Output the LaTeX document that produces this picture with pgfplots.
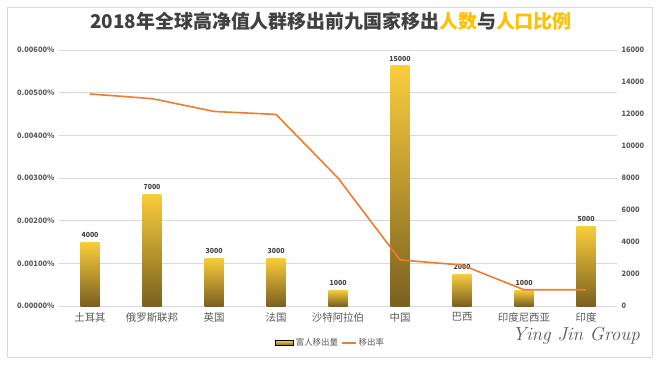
\documentclass[border=0pt]{standalone}
\usepackage{pgfplots}
\pgfplotsset{compat=1.18}
\usepackage{fontspec}
\setmainfont{Noto Sans CJK SC}
\newfontfamily\wmfont{Latin Modern Roman}
\definecolor{gold}{HTML}{FFC000}
\definecolor{barTop}{HTML}{FACD3C}
\definecolor{barBot}{HTML}{7A6020}
\definecolor{lineOr}{HTML}{ED7D31}
\definecolor{txt}{HTML}{595959}
\definecolor{ttl}{HTML}{404040}
\definecolor{gridc}{HTML}{D9D9D9}
\pgfplotsset{goldbar/.style={ybar, bar width=19bp, draw=none, top color=barTop, bottom color=barBot,
  nodes near coords,
  every node near coord/.append style={font=\fontsize{7}{8}\selectfont\bfseries, text=ttl, /pgf/number format/1000 sep={}, /pgf/number format/assume math mode=true, yshift=1bp}}}
\begin{document}
\begin{tikzpicture}[x=1bp,y=1bp]
\useasboundingbox (0,0) rectangle (659,365);
\draw[color=gridc, line width=0.8bp] (7,8) rectangle (652,358);
\node[font=\fontsize{19}{22}\selectfont\bfseries, text=ttl, anchor=center] at (331,344)
  {2018年全球高净值人群移出前九国家移出\textcolor{gold}{人数}与\textcolor{gold}{人口比例}};
% axis 1: left percent axis with grid and category labels
\begin{axis}[at={(59bp,59bp)}, anchor=south west, scale only axis,
  width=558bp, height=256bp,
  xmin=0.5, xmax=9.5, ymin=0, ymax=6,
  ytick={0,1,2,3,4,5,6},
  yticklabels={0.00000\%,0.00100\%,0.00200\%,0.00300\%,0.00400\%,0.00500\%,0.00600\%},
  xtick={1,2,3,4,5,6,7,8,9},
  xticklabels={土耳其,俄罗斯联邦,英国,法国,沙特阿拉伯,中国,巴西,印度尼西亚,印度},
  axis line style={draw=none}, major tick length=0pt,
  ymajorgrids, grid style={color=gridc, line width=0.8bp},
  yticklabel style={font=\fontsize{7.5}{9}\selectfont\bfseries, text=txt, xshift=-1bp},
  xticklabel style={font=\fontsize{10.5}{12}\selectfont, text=txt, yshift=-3bp},
]
\addplot[draw=none] coordinates {(1,0)};
\end{axis}
% axis 2: right axis with bars
\begin{axis}[at={(59bp,59bp)}, anchor=south west, scale only axis,
  width=558bp, height=256bp,
  xmin=0.5, xmax=9.5, ymin=0, ymax=16000,
  axis y line*=right, axis x line=none,
  y axis line style={draw=none}, major tick length=0pt,
  ytick={0,2000,4000,6000,8000,10000,12000,14000,16000},
  scaled y ticks=false,
  yticklabel style={font=\fontsize{7.5}{9}\selectfont\bfseries, text=txt, /pgf/number format/1000 sep={}, xshift=1bp},
  /pgf/number format/assume math mode=true,
]
\addplot[goldbar] coordinates {(1,4000)};
\addplot[goldbar] coordinates {(2,7000)};
\addplot[goldbar] coordinates {(3,3000)};
\addplot[goldbar] coordinates {(4,3000)};
\addplot[goldbar] coordinates {(5,1000)};
\addplot[goldbar] coordinates {(6,15000)};
\addplot[goldbar] coordinates {(7,2000)};
\addplot[goldbar] coordinates {(8,1000)};
\addplot[goldbar] coordinates {(9,5000)};
\end{axis}
% axis 3: line on left scale, legend
\begin{axis}[at={(59bp,59bp)}, anchor=south west, scale only axis,
  width=558bp, height=256bp,
  xmin=0.5, xmax=9.5, ymin=0, ymax=6, hide axis,
  legend style={at={(0.487,-0.145)}, anchor=center, draw=none, fill=none,
    legend columns=2, font=\fontsize{8.5}{10}\selectfont, text=txt,
    /tikz/every even column/.append style={column sep=1bp}},
]
\addlegendimage{legend image code/.code={\shade[top color=barTop, bottom color=barBot] (0bp,-2.5bp) rectangle (18bp,2.5bp);}}
\addlegendentry{富人移出量}
\addplot[color=lineOr, line width=1.6bp, mark=none,
  legend image code/.code={\draw[color=lineOr, line width=1.6bp] (0bp,0bp) -- (14bp,0bp);}]
coordinates {(1,4.97) (2,4.86) (3,4.56) (4,4.49) (5,3.00) (6,1.08) (7,0.96) (8,0.38) (9,0.38)};
\addlegendentry{移出率}
\end{axis}
\node[font=\wmfont\itshape\fontsize{19}{21}\selectfont, text=txt, anchor=center] at (576,29) {Ying Jin Group};
\end{tikzpicture}
\end{document}
